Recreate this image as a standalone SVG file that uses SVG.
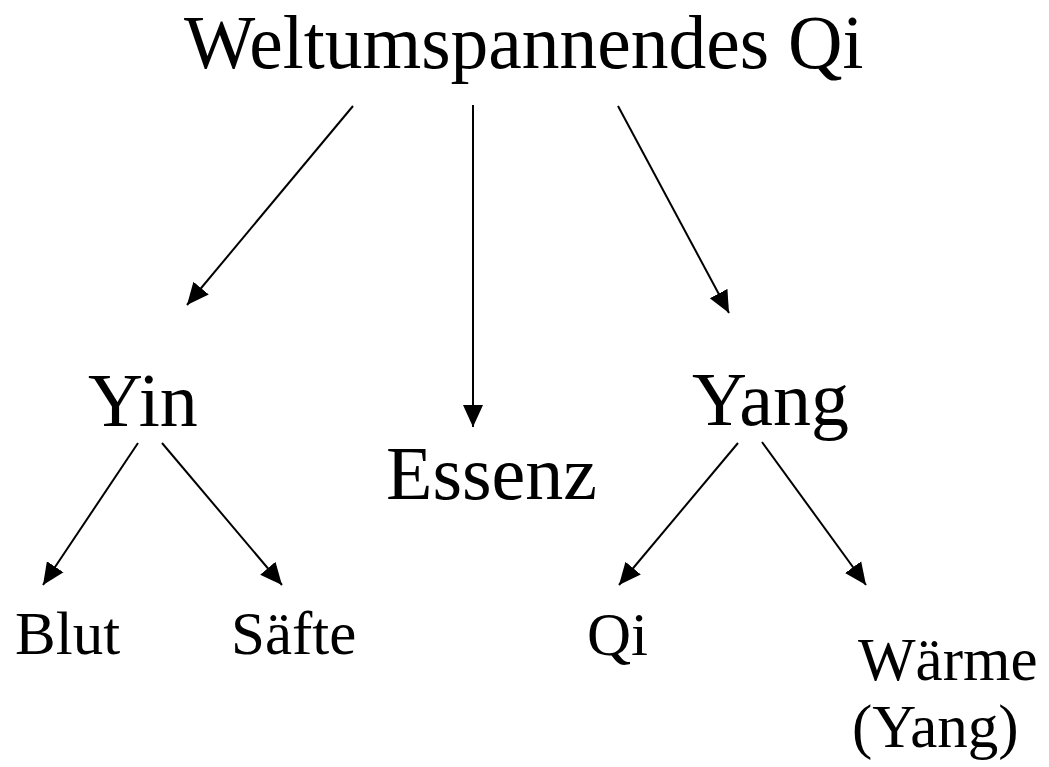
<svg xmlns="http://www.w3.org/2000/svg" width="1049" height="767" viewBox="0 0 1049 767">
<defs>
<marker id="ah" markerUnits="userSpaceOnUse" markerWidth="22" markerHeight="22" viewBox="0 0 22 22" refX="22" refY="11" orient="auto">
<path d="M0,1 L22,11 L0,21 Z" fill="#000"/>
</marker>
<style>
text{font-family:"Liberation Serif","Times New Roman",serif;fill:#000}
.t1{font-size:75.5px}
.t2{font-size:76px}
.t3{font-size:61px}
.c line{stroke:#000;stroke-width:2;marker-end:url(#ah)}
</style>
</defs>
<rect width="1049" height="767" fill="#fff"/>
<g id="n-qi-world"><text class="t1" x="184" y="68">Weltumspannendes Qi</text></g>
<g id="n-yin"><text class="t2" x="88" y="426">Yin</text></g>
<g id="n-essenz"><text class="t2" x="386" y="499">Essenz</text></g>
<g id="n-yang"><text class="t2" x="692" y="425">Yang</text></g>
<g id="n-blut"><text class="t3" x="15" y="654">Blut</text></g>
<g id="n-saefte"><text class="t3" x="231" y="654">Säfte</text></g>
<g id="n-qi"><text class="t3" x="587" y="655">Qi</text></g>
<g id="n-waerme"><text class="t3" x="858" y="680">Wärme</text><text class="t3" x="852" y="747">(Yang)</text></g>
<g id="connectors" class="c">
<line x1="353" y1="106" x2="187" y2="305"/>
<line x1="473" y1="105" x2="473" y2="427"/>
<line x1="618" y1="106" x2="729" y2="313"/>
<line x1="138" y1="443" x2="43" y2="585"/>
<line x1="162" y1="443" x2="282" y2="585"/>
<line x1="738" y1="443" x2="619" y2="585"/>
<line x1="762" y1="442" x2="866" y2="585"/>
</g>
</svg>
